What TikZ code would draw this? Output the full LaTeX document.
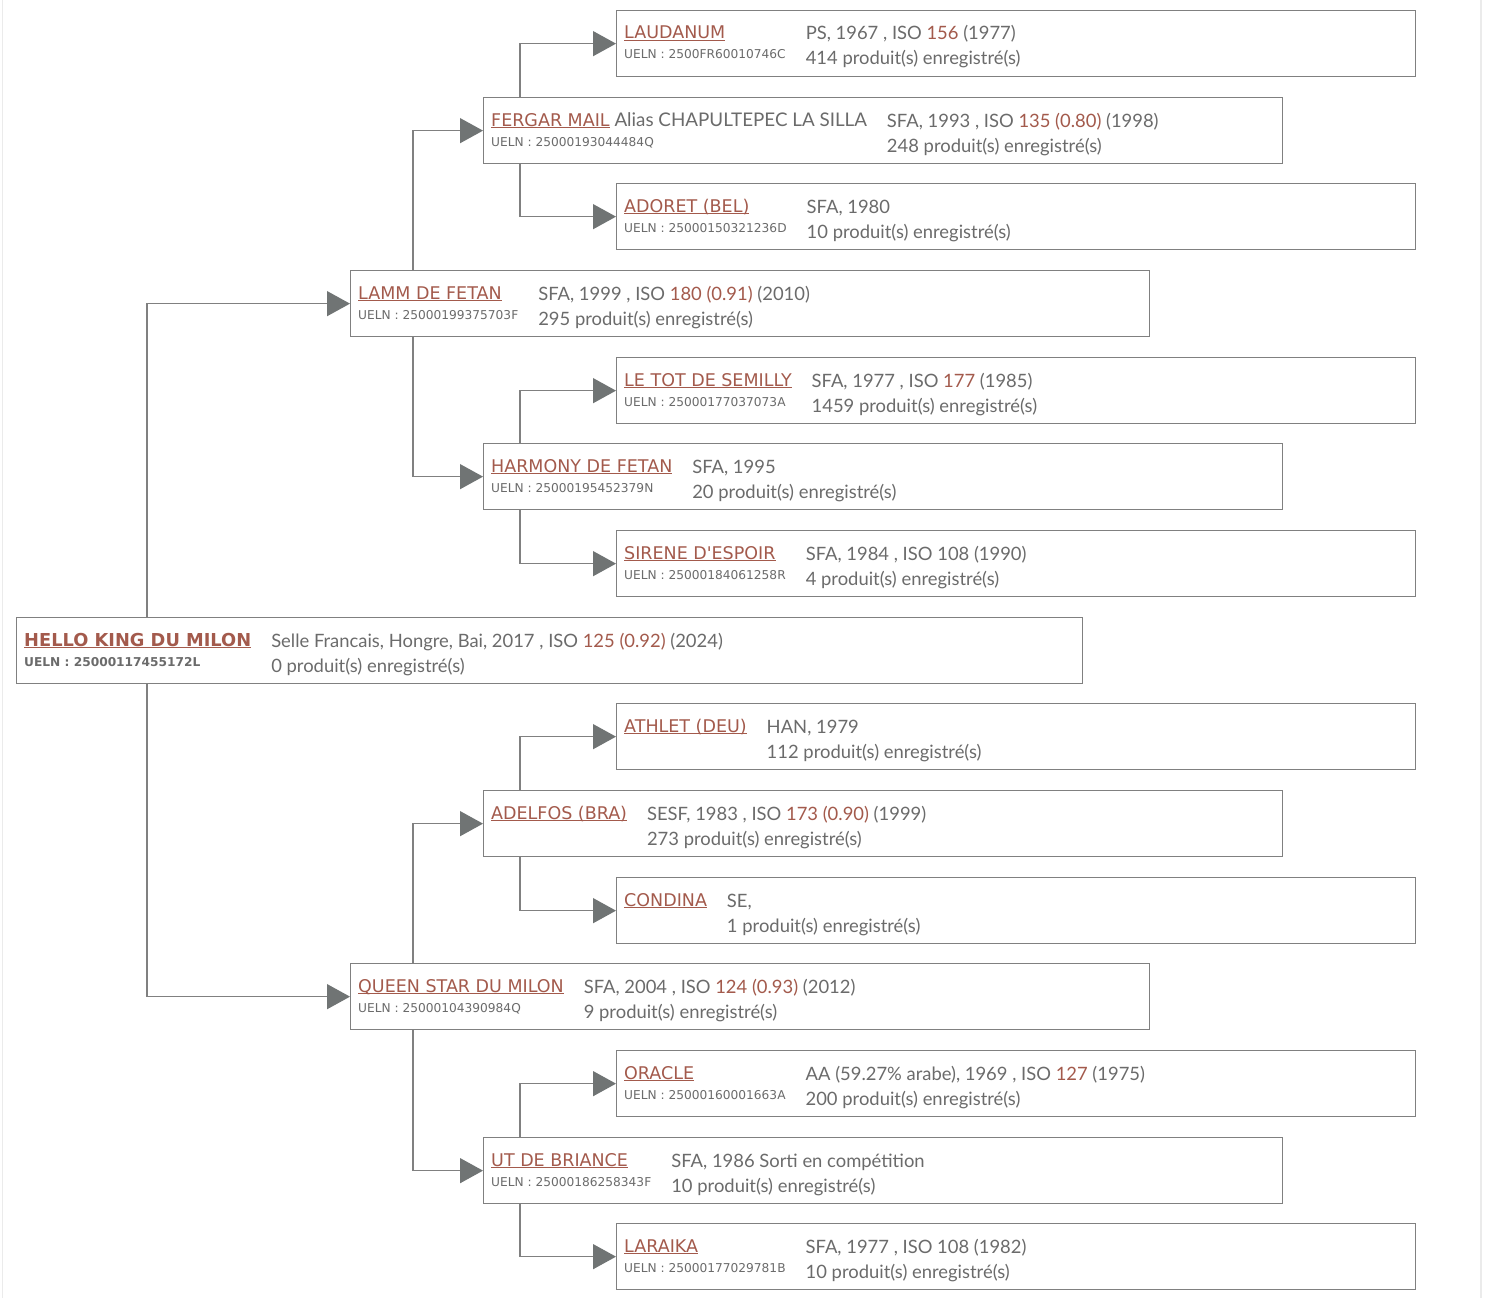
\documentclass[tikz,border=0pt]{standalone}
\usepackage{fontspec}
\setmainfont{Lato}
\newfontfamily\dv{DejaVu Sans}
\usetikzlibrary{arrows.meta}
\definecolor{lnk}{HTML}{A35A4C}
\definecolor{txt}{HTML}{6B6B6B}
\definecolor{bord}{HTML}{808080}
\definecolor{arr}{HTML}{707474}
\definecolor{frm}{HTML}{EBEBEB}
\newcommand\nm[2][17.5]{{\dv\fontsize{#1}{#1}\selectfont\color{lnk}\setbox0\hbox{#2}\rlap{\rule[-2pt]{\wd0}{1pt}}\box0}}
\newcommand\ue[1]{{\dv\fontsize{12.2}{12.2}\selectfont\color{txt}#1}}
\newcommand\hl[1]{{\color{lnk}#1}}
\newcommand\dt{\fontsize{18.4}{18.4}\selectfont\color{txt}}
\newcommand\horse[8]{%
  \node[box, minimum width=#4pt, anchor=north west] (#1) at (#2,#3) {};
  \node[anchor=base west, inner sep=0pt] (#1-t) at ([xshift=8pt,yshift=-29pt]#1.north west)
   {\vtop{\baselineskip=20pt\lineskiplimit=-\maxdimen\hbox{#5}\hbox{#6}}\hspace{20pt}\lower1pt\vtop{\baselineskip=25pt\lineskiplimit=-\maxdimen\hbox{\dt #7}\hbox{\dt #8}}};
}
\tikzset{
  box/.style={draw=bord, line width=1.3pt, minimum height=66pt, inner sep=0pt, fill=white},
  conn/.style={draw=bord, line width=1.3pt, -{Triangle[length=23pt,width=25pt,color=arr]}},
  frame/.style={draw=frm, line width=1.5pt}
}
\begin{document}
\begin{tikzpicture}[x=1pt,y=-1pt]
\useasboundingbox (0,0) rectangle (1486,1298);
\fill[white] (0,0) rectangle (1486,1298);
\draw[frame] (2.5,0) -- (2.5,1298);
\draw[frame] (1481,0) -- (1481,1298);

\horse{laudanum}{616}{10}{799}{\nm{LAUDANUM}}{\ue{UELN : 2500FR60010746C}}{PS, 1967 , ISO \hl{156} (1977)}{414 produit(s) enregistré(s)}
\horse{fergar}{483}{97}{799}{\nm{FERGAR MAIL}{\fontsize{18.8}{18.8}\selectfont\color{txt}\ Alias CHAPULTEPEC LA SILLA}}{\ue{UELN : 25000193044484Q}}{SFA, 1993 , ISO \hl{135 (0.80)} (1998)}{248 produit(s) enregistré(s)}
\horse{adoret}{616}{183}{799}{\nm{ADORET (BEL)}}{\ue{UELN : 25000150321236D}}{SFA, 1980}{10 produit(s) enregistré(s)}
\horse{lamm}{350}{270}{799}{\nm{LAMM DE FETAN}}{\ue{UELN : 25000199375703F}}{SFA, 1999 , ISO \hl{180 (0.91)} (2010)}{295 produit(s) enregistré(s)}
\horse{letot}{616}{357}{799}{\nm{LE TOT DE SEMILLY}}{\ue{UELN : 25000177037073A}}{SFA, 1977 , ISO \hl{177} (1985)}{1459 produit(s) enregistré(s)}
\horse{harmony}{483}{443}{799}{\nm{HARMONY DE FETAN}}{\ue{UELN : 25000195452379N}}{SFA, 1995}{20 produit(s) enregistré(s)}
\horse{sirene}{616}{530}{799}{\nm{SIRENE D'ESPOIR}}{\ue{UELN : 25000184061258R}}{SFA, 1984 , ISO 108 (1990)}{4 produit(s) enregistré(s)}
\horse{hello}{16}{617}{1066}{\nm[17.8]{\bfseries HELLO KING DU MILON}}{\ue{\bfseries UELN : 25000117455172L}}{Selle Francais, Hongre, Bai, 2017 , ISO \hl{125 (0.92)} (2024)}{0 produit(s) enregistré(s)}
\horse{athlet}{616}{703}{799}{\nm{ATHLET (DEU)}}{}{HAN, 1979}{112 produit(s) enregistré(s)}
\horse{adelfos}{483}{790}{799}{\nm{ADELFOS (BRA)}}{}{SESF, 1983 , ISO \hl{173 (0.90)} (1999)}{273 produit(s) enregistré(s)}
\horse{condina}{616}{877}{799}{\nm{CONDINA}}{}{SE,}{1 produit(s) enregistré(s)}
\horse{queen}{350}{963}{799}{\nm{QUEEN STAR DU MILON}}{\ue{UELN : 25000104390984Q}}{SFA, 2004 , ISO \hl{124 (0.93)} (2012)}{9 produit(s) enregistré(s)}
\horse{oracle}{616}{1050}{799}{\nm{ORACLE}}{\ue{UELN : 25000160001663A}}{AA (59.27\% arabe), 1969 , ISO \hl{127} (1975)}{200 produit(s) enregistré(s)}
\horse{ut}{483}{1137}{799}{\nm{UT DE BRIANCE}}{\ue{UELN : 25000186258343F}}{SFA, 1986 Sorti en compétition}{10 produit(s) enregistré(s)}
\horse{laraika}{616}{1223}{799}{\nm{LARAIKA}}{\ue{UELN : 25000177029781B}}{SFA, 1977 , ISO 108 (1982)}{10 produit(s) enregistré(s)}

\draw[conn] ([xshift=131pt]hello.north west) |- (lamm.west);
\draw[conn] ([xshift=131pt]hello.south west) |- (queen.west);
\draw[conn] ([xshift=63pt]lamm.north west) |- (fergar.west);
\draw[conn] ([xshift=63pt]lamm.south west) |- (harmony.west);
\draw[conn] ([xshift=63pt]queen.north west) |- (adelfos.west);
\draw[conn] ([xshift=63pt]queen.south west) |- (ut.west);
\draw[conn] ([xshift=37pt]fergar.north west) |- (laudanum.west);
\draw[conn] ([xshift=37pt]fergar.south west) |- (adoret.west);
\draw[conn] ([xshift=37pt]harmony.north west) |- (letot.west);
\draw[conn] ([xshift=37pt]harmony.south west) |- (sirene.west);
\draw[conn] ([xshift=37pt]adelfos.north west) |- (athlet.west);
\draw[conn] ([xshift=37pt]adelfos.south west) |- (condina.west);
\draw[conn] ([xshift=37pt]ut.north west) |- (oracle.west);
\draw[conn] ([xshift=37pt]ut.south west) |- (laraika.west);
\end{tikzpicture}
\end{document}
